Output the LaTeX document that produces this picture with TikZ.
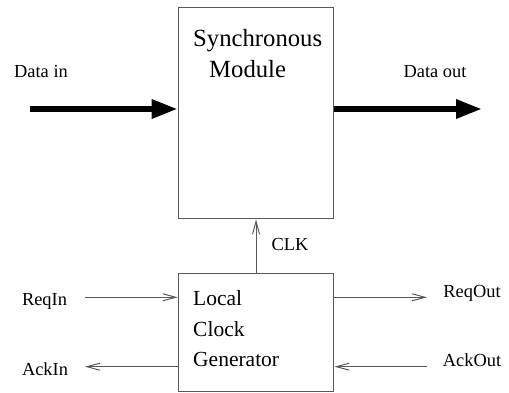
\documentclass[tikz,border=0pt]{standalone}
\usepackage{fontspec}
\setmainfont{Liberation Serif}
\usetikzlibrary{arrows.meta}
\begin{document}
\begin{tikzpicture}[x=1pt,y=-1pt,
  thin line/.style={draw=black!65,line width=1.1pt},
  thinarrow/.style={thin line,-{Straight Barb[length=13pt,width=7pt,line width=1pt]}},
  thickarrow/.style={draw=black,line width=6pt,-{Triangle[length=26pt,width=18pt]}},
  smalltext/.style={font=\fontsize{18.4}{20}\selectfont,inner sep=0pt},
  midtext/.style={font=\fontsize{21.5}{24}\selectfont,inner sep=0pt,anchor=base west},
  bigtext/.style={font=\fontsize{24.7}{28}\selectfont,inner sep=0pt,anchor=base west},
  box/.style={thin line,fill=white}]
\useasboundingbox (0,0) rectangle (509,393);
% boxes
\node[inner sep=0pt,minimum width=155.6pt,minimum height=211pt,anchor=north west,box,draw] (sm) at (177.7,7.3) {};
\node[inner sep=0pt,minimum width=155.6pt,minimum height=118pt,anchor=north west,box,draw] (lcg) at (177.7,272.7) {};
% texts inside
\node[bigtext] (t1) at (193,47) {Synchronous};
\node[bigtext] (t2) at (209,78) {Module};
\node[midtext] (l1) at (193,305) {Local};
\node[midtext] (l2) at (193,336) {Clock};
\node[midtext] (l3) at (193,366.5) {Generator};
% labels
\node[smalltext,anchor=base] (din) at (41,78) {Data in};
\node[smalltext,anchor=base] (dout) at (435,78) {Data out};
\node[smalltext,anchor=base west] (clk) at (271.5,250) {CLK};
\node[smalltext,anchor=base] (reqin) at (44.5,305) {ReqIn};
\node[smalltext,anchor=base] (ackin) at (45,375) {AckIn};
\node[smalltext,anchor=base] (reqout) at (472,297) {ReqOut};
\node[smalltext,anchor=base] (ackout) at (472,366.5) {AckOut};
% connector end coordinates
\coordinate (dinS) at (30,109);
\coordinate (doutE) at (482,109);
\coordinate (reqinS) at (85,297.3);
\coordinate (ackinE) at (85,366.7);
\coordinate (reqoutE) at (427,297.3);
\coordinate (ackoutS) at (427,366.7);
% thick arrows
\draw[thickarrow] (dinS) -- (sm.west |- dinS);
\draw[thickarrow] (sm.east |- dinS) -- (doutE);
% clock
\draw[thinarrow] (lcg.north) -- (sm.south);
% handshake
\draw[thinarrow] (reqinS) -- (lcg.west |- reqinS);
\draw[thinarrow] (lcg.west |- ackinE) -- (ackinE);
\draw[thinarrow] (lcg.east |- reqoutE) -- (reqoutE);
\draw[thinarrow] (ackoutS) -- (lcg.east |- ackoutS);
\end{tikzpicture}
\end{document}
